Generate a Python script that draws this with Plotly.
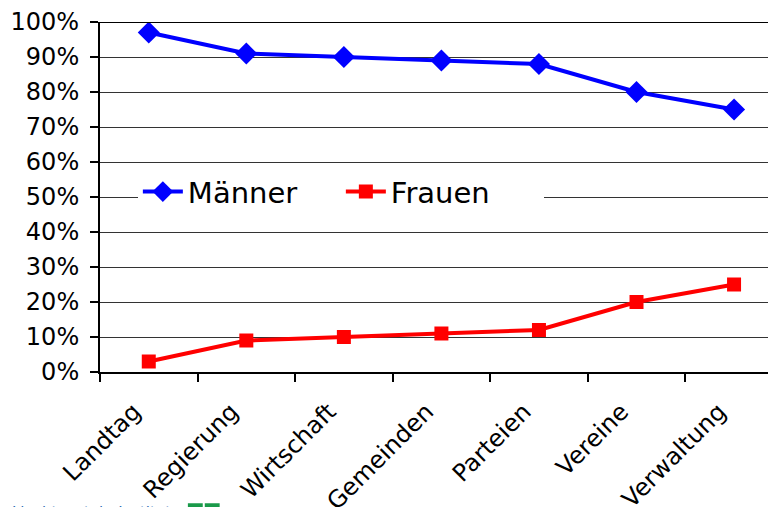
import plotly.graph_objects as go

categories = ["Landtag", "Regierung", "Wirtschaft", "Gemeinden", "Parteien", "Vereine", "Verwaltung"]
maenner = [0.97, 0.91, 0.90, 0.89, 0.88, 0.80, 0.75]
frauen = [0.03, 0.09, 0.10, 0.11, 0.12, 0.20, 0.25]
y_ticks = [i / 10 for i in range(11)]

FONT = "DejaVu Sans, Verdana, sans-serif"

fig = go.Figure()
fig.add_trace(go.Scatter(
    x=categories, y=maenner, name="Männer", mode="lines+markers",
    line=dict(color="#0000FF", width=4),
    marker=dict(symbol="diamond", size=17, color="#0000FF"),
))
fig.add_trace(go.Scatter(
    x=categories, y=frauen, name="Frauen", mode="lines+markers",
    line=dict(color="#FF0000", width=4),
    marker=dict(symbol="square", size=14, color="#FF0000"),
))

# top border at 100%
fig.add_shape(type="line", xref="paper", yref="y", x0=0, x1=1, y0=1, y1=1,
              line=dict(color="black", width=2))

# cut-off watermark at the bottom edge
fig.add_annotation(text="Liechtenstein-Institut", xref="paper", yref="paper",
                   x=-0.133, y=-0.402, xanchor="left", yanchor="middle",
                   showarrow=False, font=dict(family=FONT, size=15, color="#2F6DB5"))
fig.add_shape(type="rect", xref="paper", yref="paper",
              x0=0.130, x1=0.152, y0=-0.375, y1=-0.43,
              fillcolor="#1A9A4A", line=dict(width=0))
fig.add_shape(type="rect", xref="paper", yref="paper",
              x0=0.155, x1=0.177, y0=-0.375, y1=-0.43,
              fillcolor="#1A9A4A", line=dict(width=0))

# page body has an 8px margin, so the figure is sized to fit the window
fig.update_layout(
    width=768, height=499,
    margin=dict(l=92, r=0, t=14, b=135),
    paper_bgcolor="white", plot_bgcolor="white",
    font=dict(family=FONT, color="black"),
    showlegend=True,
    legend=dict(
        orientation="h", x=0.056, y=0.515, xanchor="left", yanchor="middle",
        bgcolor="white", font=dict(size=29, family=FONT),
        itemwidth=40, entrywidth=148,
    ),
    xaxis=dict(
        type="category", range=[-0.5, 6.43], automargin=False,
        showline=True, linecolor="black", linewidth=2,
        ticks="outside", tickson="boundaries", ticklen=8, tickwidth=1.5, tickcolor="black",
        tickangle=-45, tickfont=dict(size=24, family=FONT),
        ticklabelshift=-15, ticklabelstandoff=14,
        showgrid=False,
    ),
    yaxis=dict(
        range=[0, 1], tickvals=y_ticks, tickformat=".0%", automargin=False,
        showline=True, linecolor="black", linewidth=2,
        ticks="outside", ticklen=8, tickwidth=1.5, tickcolor="black",
        tickfont=dict(size=24, family=FONT), ticklabelstandoff=6,
        showgrid=True, gridcolor="#333333", gridwidth=1.2,
        zeroline=False,
    ),
)

fig.write_html("out.html")
